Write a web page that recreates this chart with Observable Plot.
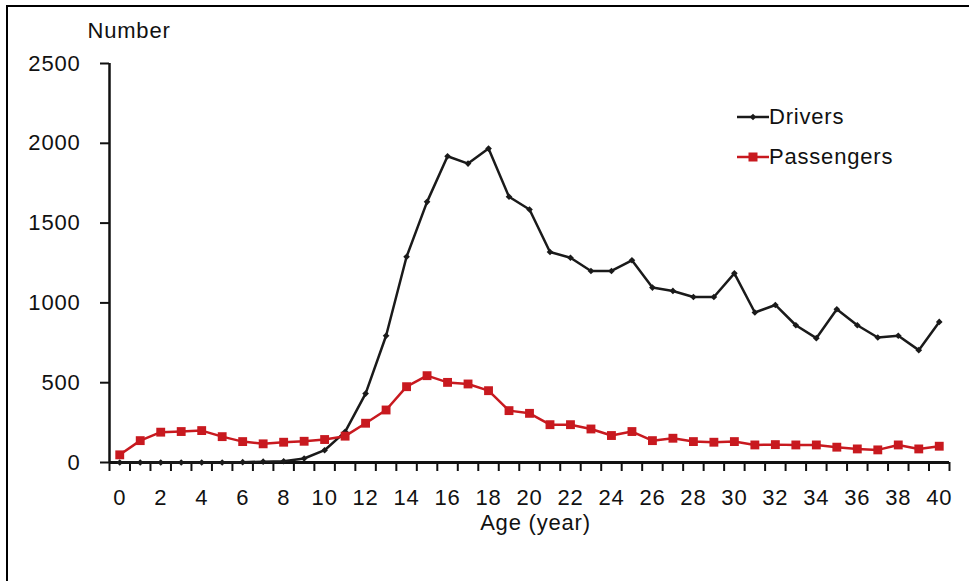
<!DOCTYPE html>
<html><head><meta charset="utf-8">
<script src="https://cdn.jsdelivr.net/npm/d3@7"></script>
<script src="https://cdn.jsdelivr.net/npm/@observablehq/plot@0.6"></script>
<style>
body{margin:0;background:#fff;}
#wrap{position:relative;width:969px;height:581px;overflow:hidden;font-family:"Liberation Sans",Arial,sans-serif;}
#frame{position:absolute;left:6px;top:5px;right:-10px;bottom:-10px;border-left:2px solid #000;border-top:2px solid #000;pointer-events:none;}
#chart{position:absolute;left:0;top:0;}
#legend{position:absolute;left:737px;top:97px;font-size:22px;letter-spacing:0.8px;color:#111;}
.item{display:flex;align-items:center;height:40px;}
.item svg{display:block;}
</style></head>
<body>
<div id="wrap">
  <div id="chart"></div>
  <div id="frame"></div>
  <div id="legend"></div>
</div>
<script>
const ages = [0,1,2,3,4,5,6,7,8,9,10,11,12,13,14,15,16,17,18,19,20,21,22,23,24,25,26,27,28,29,30,31,32,33,34,35,36,37,38,39,40];
const drivers = [0,0,0,0,0,0,2,5,8,25,77,192,432,794,1289,1633,1919,1873,1967,1665,1585,1319,1283,1200,1200,1267,1096,1075,1037,1037,1185,940,987,860,779,960,860,783,794,704,881];
const passengers = [48,137,190,194,200,162,131,117,127,133,144,165,246,329,475,544,502,492,450,325,308,237,237,210,169,194,137,152,131,127,131,110,112,110,110,96,85,79,110,85,102];
const seriesNames = ["Drivers","Passengers"];
const seriesColors = ["#1a1a1a","#c8191f"];
const yTicks = [0,500,1000,1500,2000,2500];
const xTickLabels = [0,2,4,6,8,10,12,14,16,18,20,22,24,26,28,30,32,34,36,38,40];
const yTitle = "Number";
const xTitle = "Age (year)";

const rows = ages.map((a,i)=>({age:a, drivers:drivers[i], passengers:passengers[i]}));
const boundaries = [ages[0]-0.5, ...ages.map(a=>a+0.5)];

const font = '"Liberation Sans", Arial, sans-serif';
const plot = Plot.plot({
  width:969, height:581,
  marginLeft:109, marginRight:20, marginTop:63, marginBottom:119,
  x:{domain:[ages[0]-0.5, ages[ages.length-1]+0.5]},
  y:{domain:[0,2500]},
  style:{fontFamily:font, fontSize:"22px", color:"#111", background:"transparent", letterSpacing:"0.8px"},
  marks:[
    Plot.axisY({ticks:yTicks, tickSize:9, tickPadding:20, tickFormat:d=>String(d), label:null, strokeWidth:2}),
    Plot.axisX({ticks:boundaries, tickSize:9, tickFormat:()=>"", label:null, strokeWidth:2}),
    Plot.axisX({ticks:xTickLabels, tickSize:0, tickPadding:27, tickFormat:d=>String(d), label:null}),
    Plot.ruleX([ages[0]-0.5], {stroke:"#111", strokeWidth:2.5}),
    Plot.ruleY([0], {stroke:"#111", strokeWidth:3}),
    Plot.text([yTitle], {frameAnchor:"top-left", dx:-22, dy:-33, textAnchor:"start", lineAnchor:"middle", fontSize:22}),
    Plot.text([xTitle], {frameAnchor:"bottom", dx:6, dy:60, lineAnchor:"middle", fontSize:22}),
    Plot.line(rows, {x:"age", y:"drivers", stroke:seriesColors[0], strokeWidth:2.5}),
    Plot.dot(rows, {x:"age", y:"drivers", symbol:"diamond2", r:3, fill:seriesColors[0], stroke:null}),
    Plot.line(rows, {x:"age", y:"passengers", stroke:seriesColors[1], strokeWidth:2.5}),
    Plot.dot(rows, {x:"age", y:"passengers", symbol:"square", r:5, fill:seriesColors[1], stroke:null})
  ]
});
document.getElementById("chart").appendChild(plot);

// legend
const legend = document.getElementById("legend");
seriesNames.forEach((name,i)=>{
  const item = document.createElement("div");
  item.className = "item";
  const sw = d3.create("svg").attr("width",32).attr("height",20);
  sw.append("line").attr("x1",0).attr("x2",32).attr("y1",10).attr("y2",10)
    .attr("stroke",seriesColors[i]).attr("stroke-width",2.5);
  if (i===0) {
    sw.append("path").attr("d", d3.symbol(d3.symbolDiamond2, Math.PI*9)()).attr("transform","translate(16,10)").attr("fill",seriesColors[i]);
  } else {
    sw.append("rect").attr("x",11.5).attr("y",5.5).attr("width",9).attr("height",9).attr("fill",seriesColors[i]);
  }
  item.appendChild(sw.node());
  const t = document.createElement("span");
  t.textContent = name;
  item.appendChild(t);
  legend.appendChild(item);
});
</script>
</body></html>
